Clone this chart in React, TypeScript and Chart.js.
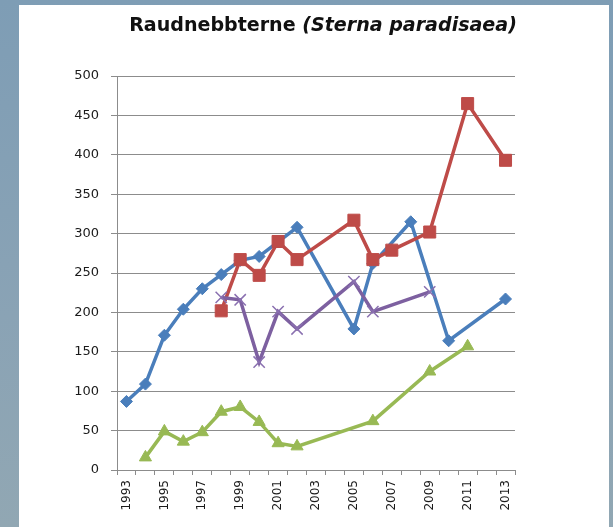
import React, { useEffect, useRef } from 'react';
import { Chart, registerables } from 'chart.js';

Chart.register(...registerables);

const TITLE_MAIN = 'Raudnebbterne ';
const TITLE_LATIN = '(Sterna paradisaea)';

const years = [
  '1993', '1994', '1995', '1996', '1997', '1998', '1999', '2000', '2001', '2002', '2003',
  '2004', '2005', '2006', '2007', '2008', '2009', '2010', '2011', '2012', '2013',
];

const seriesBlue = [87, 109, 171, 204, 230, 248, 266, 271, null, 308, null, null, 179, 262, null, 315, null, 164, null, null, 217];
const seriesRed = [null, null, null, null, null, 202, 267, 247, 290, 267, null, null, 317, 267, 279, null, 302, null, 465, null, 393];
const seriesPurple = [null, null, null, null, null, 219, 216, 137, 201, 179, null, null, 239, 201, null, null, 226, null, null, null, null];
const seriesGreen = [null, 16, 49, 36, 48, 74, 80, 61, 34, 30, null, null, null, 62, null, null, 125, null, 157, null, null];

const yTicks = [0, 50, 100, 150, 200, 250, 300, 350, 400, 450, 500];

const titlePlugin = {
  id: 'mixedTitle',
  afterDraw(chart: any) {
    const ctx = chart.ctx as CanvasRenderingContext2D;
    const targetWidth = 388;
    const centerX = 304;
    const baseline = 26;
    ctx.save();
    let size = 18;
    ctx.font = `bold ${size}px "DejaVu Sans"`;
    let wa = ctx.measureText(TITLE_MAIN).width;
    ctx.font = `italic bold ${size}px "DejaVu Sans"`;
    let wb = ctx.measureText(TITLE_LATIN).width;
    size = size * targetWidth / (wa + wb);
    ctx.font = `bold ${size}px "DejaVu Sans"`;
    wa = ctx.measureText(TITLE_MAIN).width;
    ctx.font = `italic bold ${size}px "DejaVu Sans"`;
    wb = ctx.measureText(TITLE_LATIN).width;
    const startX = centerX - (wa + wb) / 2;
    ctx.fillStyle = '#111111';
    ctx.textBaseline = 'alphabetic';
    ctx.textAlign = 'left';
    ctx.font = `bold ${size}px "DejaVu Sans"`;
    ctx.fillText(TITLE_MAIN, startX, baseline);
    ctx.font = `italic bold ${size}px "DejaVu Sans"`;
    ctx.fillText(TITLE_LATIN, startX + wa, baseline);
    ctx.restore();
  },
};

export default function App() {
  const ref = useRef<HTMLCanvasElement | null>(null);

  useEffect(() => {
    if (!ref.current) return;
    const gridColor = '#8c8c8c';
    const chart = new Chart(ref.current, {
      type: 'line',
      data: {
        labels: years,
        datasets: [
          {
            label: 'Blue',
            data: seriesBlue,
            borderColor: '#4a7ebb',
            backgroundColor: '#4a7ebb',
            pointBackgroundColor: '#4a7ebb',
            pointBorderColor: '#4a7ebb',
            pointStyle: 'rectRot',
            pointRadius: 6,
            pointBorderWidth: 1,
            borderWidth: 3.5,
            spanGaps: true,
            tension: 0,
            order: 4,
          },
          {
            label: 'Red',
            data: seriesRed,
            borderColor: '#be4b48',
            backgroundColor: '#be4b48',
            pointBackgroundColor: '#be4b48',
            pointBorderColor: '#be4b48',
            pointStyle: 'rect',
            pointRadius: 8.5,
            pointBorderWidth: 1,
            borderWidth: 3.5,
            spanGaps: true,
            tension: 0,
            order: 3,
          },
          {
            label: 'Purple',
            data: seriesPurple,
            borderColor: '#7d60a0',
            backgroundColor: '#7d60a0',
            pointBackgroundColor: '#7d60a0',
            pointBorderColor: '#8a70b0',
            pointStyle: 'crossRot',
            pointRadius: 8,
            pointBorderWidth: 1.5,
            borderWidth: 3.5,
            spanGaps: true,
            tension: 0,
            order: 2,
          },
          {
            label: 'Green',
            data: seriesGreen,
            borderColor: '#98b954',
            backgroundColor: '#98b954',
            pointBackgroundColor: '#98b954',
            pointBorderColor: '#98b954',
            pointStyle: 'triangle',
            pointRadius: 7,
            pointBorderWidth: 1,
            borderWidth: 3.5,
            spanGaps: true,
            tension: 0,
            order: 1,
          },
        ],
      },
      options: {
        responsive: false,
        animation: false,
        devicePixelRatio: 1,
        layout: { padding: { left: 0, right: 94, top: 71, bottom: 0 } },
        plugins: {
          legend: { display: false },
          title: { display: false },
          tooltip: { enabled: false },
        },
        scales: {
          x: {
            type: 'category',
            offset: true,
            grid: {
              offset: true,
              drawOnChartArea: false,
              drawTicks: true,
              tickLength: 5,
              color: gridColor,
            },
            border: { display: true, color: gridColor, width: 1 },
            ticks: {
              autoSkip: false,
              minRotation: 90,
              maxRotation: 90,
              padding: 5,
              color: '#1a1a1a',
              font: { family: '"DejaVu Sans"', size: 12 },
              callback: (_v: any, i: number) => (i % 2 === 0 ? years[i] : ''),
            },
            afterFit: (s: any) => {
              s.height = 57;
            },
          },
          y: {
            min: yTicks[0],
            max: yTicks[yTicks.length - 1],
            afterBuildTicks: (s: any) => {
              s.ticks = yTicks.map((v) => ({ value: v }));
            },
            grid: {
              color: gridColor,
              lineWidth: 1,
              drawTicks: true,
              tickLength: 6,
            },
            border: { display: true, color: gridColor, width: 1 },
            ticks: {
              padding: 12,
              color: '#1a1a1a',
              font: { family: '"DejaVu Sans"', size: 13 },
            },
            afterFit: (s: any) => {
              s.width = 98;
            },
          },
        },
      },
      plugins: [titlePlugin],
    });
    return () => chart.destroy();
  }, []);

  return (
    <div
      style={{
        position: 'fixed',
        left: 0,
        top: 0,
        width: 613,
        height: 527,
        background: 'linear-gradient(180deg, #7e9db5 0%, #8aa3b5 60%, #91a7b3 100%)',
        overflow: 'hidden',
      }}
    >
      <div
        style={{
          position: 'absolute',
          left: 19,
          top: 5,
          width: 590,
          height: 522,
          background: '#ffffff',
        }}
      >
        <canvas ref={ref} width={590} height={522} style={{ display: 'block', width: 590, height: 522 }} />
      </div>
    </div>
  );
}
